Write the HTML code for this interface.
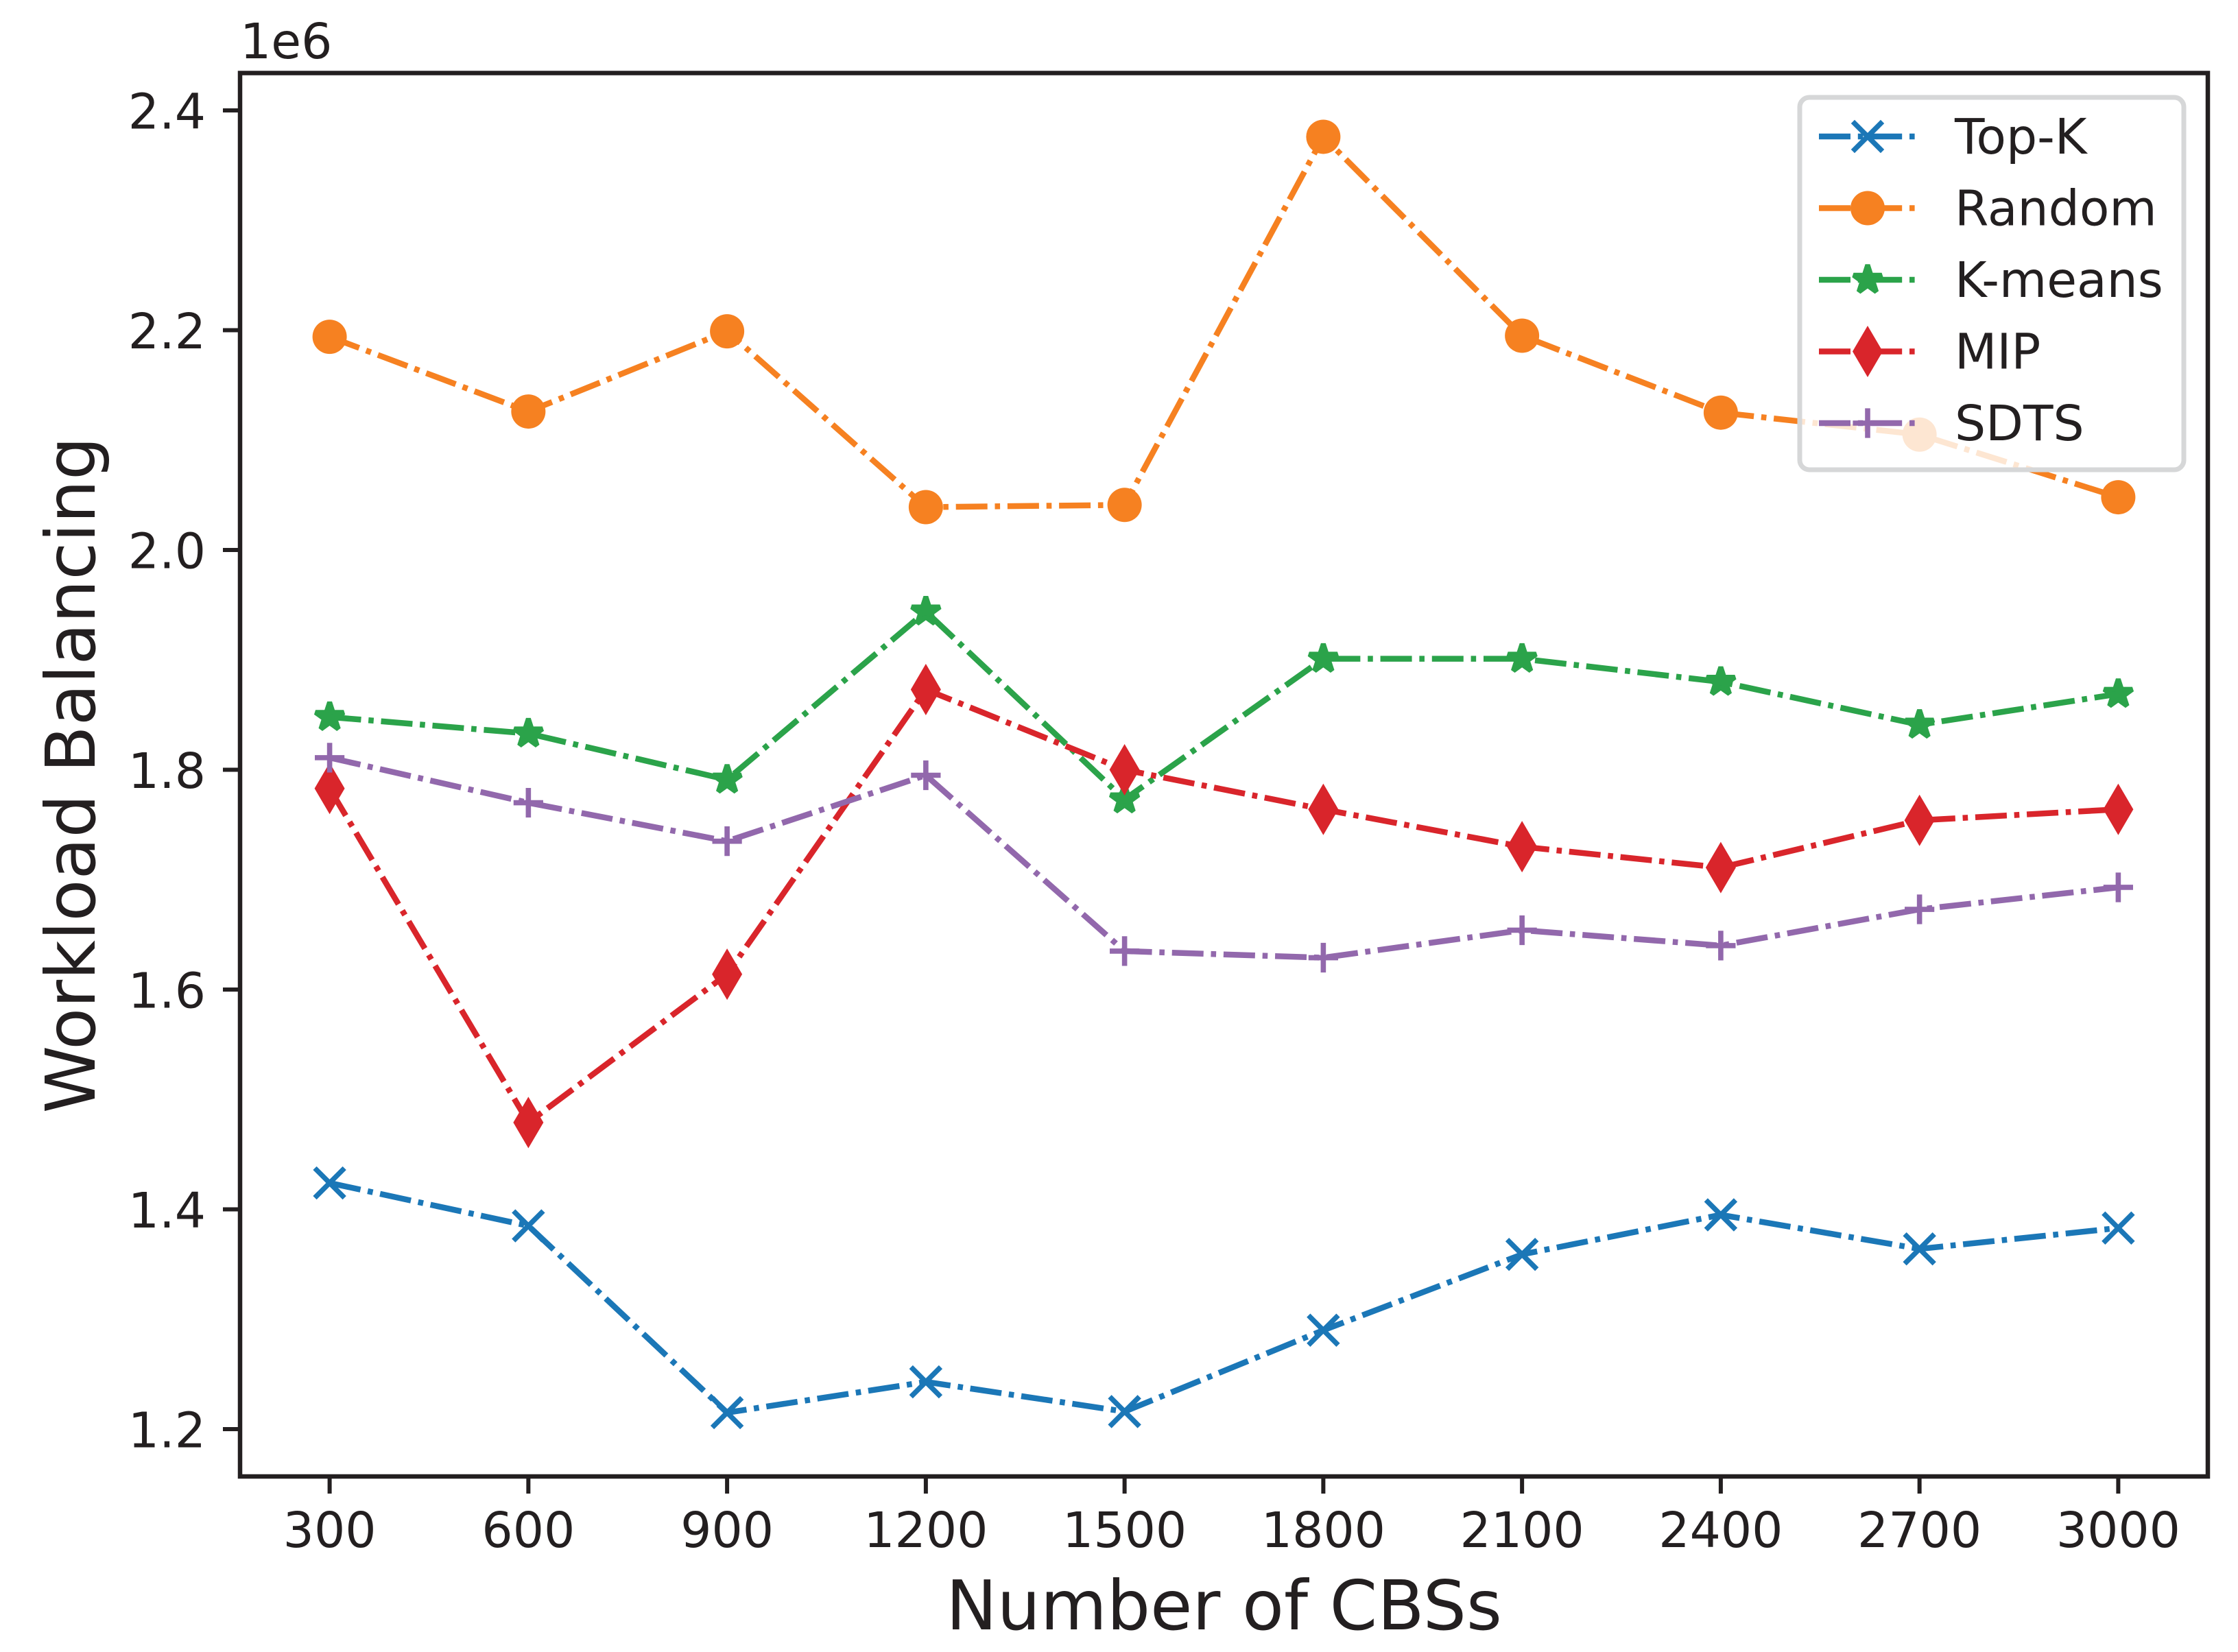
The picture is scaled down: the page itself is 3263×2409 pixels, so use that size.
<!DOCTYPE html>
<html lang="en">
<head>
<meta charset="utf-8">
<title>Workload Balancing vs Number of CBSs</title>
<style>
html,body{margin:0;padding:0;background:#fff;}
svg{display:block;}
text{font-family:"DejaVu Sans","Liberation Sans",sans-serif;fill:#231f20;}
</style>
</head>
<body>
<svg id="chart" xmlns="http://www.w3.org/2000/svg" width="3263" height="2409" viewBox="0 0 3263 2409">
  <rect x="0" y="0" width="3263" height="2409" fill="#ffffff"/>
  <g id="series-layer"></g>
  <g id="axes-layer">
    <rect x="350" y="106.5" width="2869" height="2046.5" fill="none" stroke="#231f20" stroke-width="6.5"/>
  </g>
  <text x="350" y="85" font-size="71.2">1e6</text>
  <text x="1784.6" y="2376" font-size="99.6" text-anchor="middle">Number of CBSs</text>
  <text transform="translate(138 1130) rotate(-90)" font-size="99.6" text-anchor="middle">Workload Balancing</text>
  <g id="legend-layer">
    <rect x="2624" y="142" width="560" height="543" rx="14" ry="14" fill="#ffffff" fill-opacity="0.8" stroke="#d6d7d8" stroke-width="7"/>
  </g>
</svg>
<script>
// Chart data (values in units of 1e6)
const categories = [300, 600, 900, 1200, 1500, 1800, 2100, 2400, 2700, 3000];
const yTickValues = [1.2, 1.4, 1.6, 1.8, 2.0, 2.2, 2.4];
const yTickLabels = ["1.2", "1.4", "1.6", "1.8", "2.0", "2.2", "2.4"];
const seriesNames = ["Top-K", "Random", "K-means", "MIP", "SDTS"];
const topK = [1.424, 1.385, 1.215, 1.243, 1.216, 1.290, 1.359, 1.395, 1.364, 1.383];
const random = [2.194, 2.126, 2.199, 2.039, 2.041, 2.376, 2.195, 2.125, 2.105, 2.048];
const kMeans = [1.848, 1.833, 1.791, 1.944, 1.773, 1.901, 1.901, 1.880, 1.841, 1.869];
const mip = [1.783, 1.479, 1.614, 1.873, 1.800, 1.764, 1.730, 1.711, 1.754, 1.764];
const sdts = [1.811, 1.770, 1.735, 1.795, 1.635, 1.629, 1.654, 1.640, 1.673, 1.693];

const NS = "http://www.w3.org/2000/svg";
const INK = "#231f20";
const DASH = "46 10.8 7.6 10.8";
const LINE_W = 8.5;

function xScale(v) { return 480.6 + (v - 300) * (2607.8 / 2700); }
function yScale(v) { return 161 + (2.4 - v) * 1602.5; }

function make(tag, attrs, parent) {
  const el = document.createElementNS(NS, tag);
  for (const k in attrs) el.setAttribute(k, attrs[k]);
  parent.appendChild(el);
  return el;
}

function starPoints(r) {
  const pts = [];
  for (let i = 0; i < 10; i++) {
    const rad = i % 2 === 0 ? r : r * 0.381966;
    const a = -Math.PI / 2 + i * Math.PI / 5;
    pts.push((rad * Math.cos(a)).toFixed(2) + "," + (rad * Math.sin(a)).toFixed(2));
  }
  return pts.join(" ");
}

function drawMarker(kind, color, cx, cy, parent) {
  const g = make("g", { transform: "translate(" + cx + " " + cy + ")" }, parent);
  if (kind === "x") {
    make("path", { d: "M-21.6 -21.6L21.6 21.6M-21.6 21.6L21.6 -21.6", fill: "none", stroke: color, "stroke-width": 7.4 }, g);
  } else if (kind === "circle") {
    make("circle", { cx: 0, cy: 0, r: 25, fill: color }, g);
  } else if (kind === "star") {
    make("polygon", { points: starPoints(21.6), fill: color, stroke: color, "stroke-width": 7.2, "stroke-linejoin": "bevel" }, g);
  } else if (kind === "diamond") {
    make("polygon", { points: "0,-37.5 22,0 0,37.5 -22,0", fill: color }, g);
  } else {
    make("path", { d: "M-21.6 0L21.6 0M0 -21.6L0 21.6", fill: "none", stroke: color, "stroke-width": 7.6 }, g);
  }
  return g;
}

const seriesValues = [topK, random, kMeans, mip, sdts];
const seriesColors = ["#1b77b7", "#f68121", "#2ba34a", "#d9252b", "#9268ac"];
const seriesMarkers = ["x", "circle", "star", "diamond", "plus"];

const seriesLayer = document.getElementById("series-layer");
const axesLayer = document.getElementById("axes-layer");
const legendLayer = document.getElementById("legend-layer");

// Axis ticks and labels
categories.forEach(function (c) {
  const px = xScale(c);
  const tick = make("line", { x1: px, x2: px, y1: 2153, y2: 2178, stroke: INK, "stroke-width": 6 }, axesLayer);
  
  
  const label = make("text", { x: px, y: 2256, "font-size": 71.2, "text-anchor": "middle" }, axesLayer);
  label.textContent = String(c);
  
  
});

yTickValues.forEach(function (v, i) {
  const py = yScale(v);
  const tick = make("line", { x1: 325, x2: 350, y1: py, y2: py, stroke: INK, "stroke-width": 6 }, axesLayer);
  
  
  const label = make("text", { x: 300, y: py + 26.5, "font-size": 71.2, "text-anchor": "end" }, axesLayer);
  label.textContent = yTickLabels[i];
  
  
});

// Series lines and markers
seriesValues.forEach(function (values, s) {
  const key = seriesNames[s].toLowerCase();
  const group = make("g", {}, seriesLayer);
  
  
  const pts = values.map(function (v, i) {
    return xScale(categories[i]).toFixed(2) + "," + yScale(v).toFixed(2);
  }).join(" ");
  const line = make("polyline", { points: pts, fill: "none", stroke: seriesColors[s], "stroke-width": LINE_W, "stroke-dasharray": DASH, "stroke-linejoin": "round" }, group);
  
  
  values.forEach(function (v, i) {
    const m = drawMarker(seriesMarkers[s], seriesColors[s], xScale(categories[i]), yScale(v), group);
    
    
  });
});

// Legend entries
seriesNames.forEach(function (name, s) {
  const key = name.toLowerCase();
  const rowY = 199 + s * 104.5;
  const entry = make("g", {}, legendLayer);
  
  
  const handle = make("line", { x1: 2652, x2: 2792, y1: rowY, y2: rowY, stroke: seriesColors[s], "stroke-width": LINE_W, "stroke-dasharray": DASH }, entry);
  
  
  const marker = drawMarker(seriesMarkers[s], seriesColors[s], 2723, rowY, entry);
  
  
  const label = make("text", { x: 2850, y: rowY + 25, "font-size": 71.2 }, entry);
  label.textContent = name;
  
  
});
</script>
</body>
</html>
